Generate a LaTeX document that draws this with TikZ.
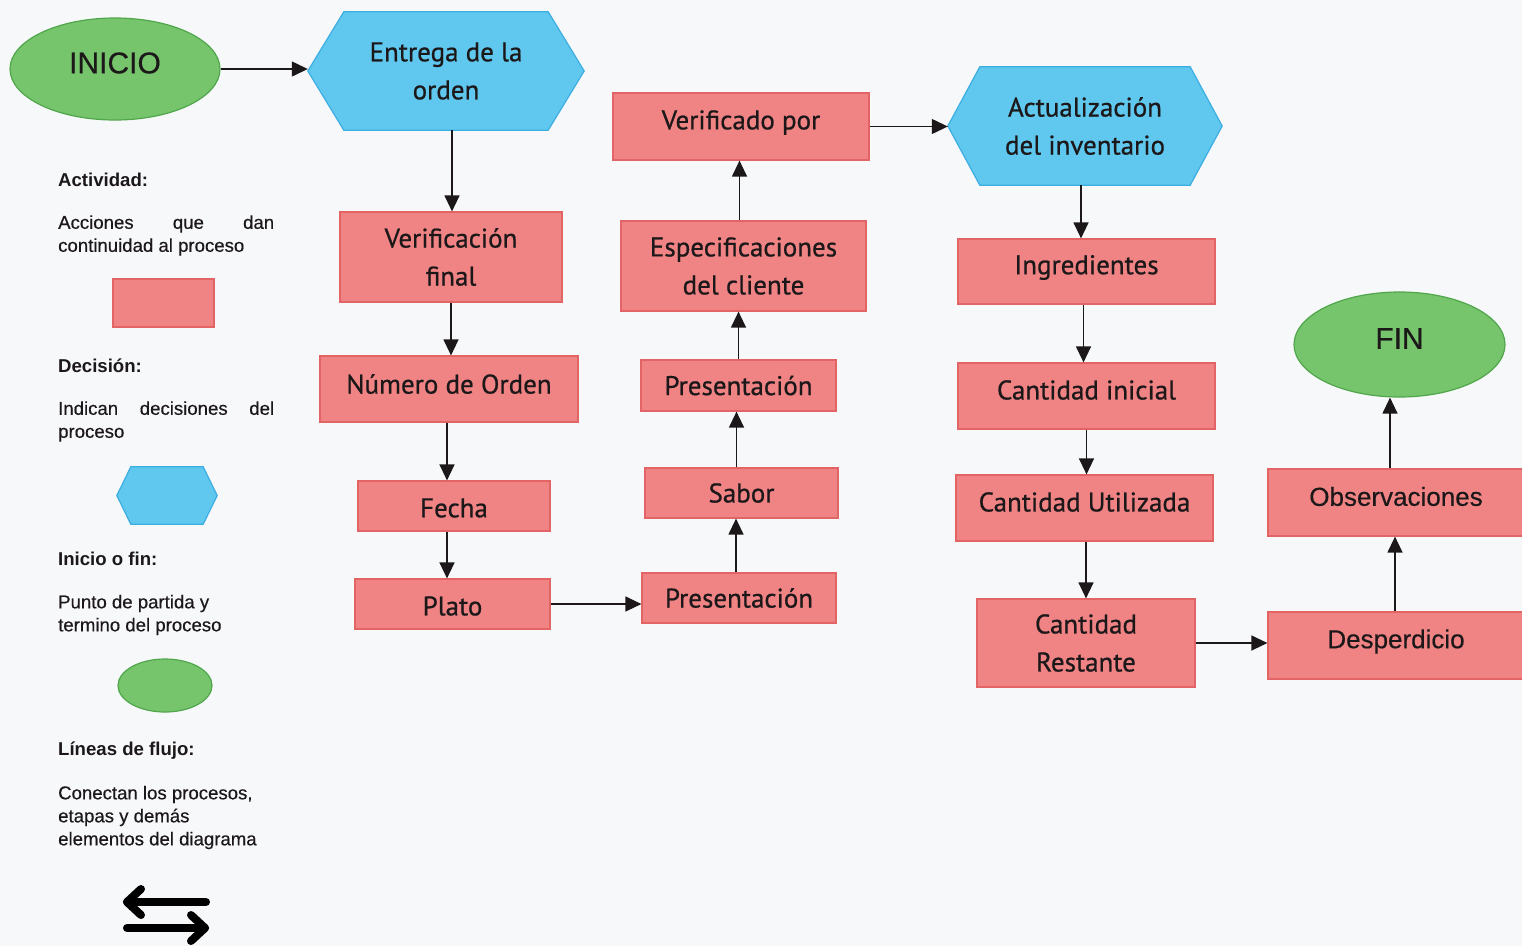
\documentclass[tikz,border=0pt]{standalone}
\usepackage{fontspec}
\setmainfont{Liberation Sans}
\newfontfamily\boxfont{PT Sans}[FakeBold=0.7]
\newfontfamily\legfont{Liberation Sans}[FakeBold=0.4]
\usetikzlibrary{shapes.geometric,arrows.meta,backgrounds,calc}
\newcommand\liftt[2]{\raisebox{#1}[\height][\depth]{#2}}
\definecolor{bg}{RGB}{247,248,250}
\definecolor{pinkfill}{RGB}{240,132,132}
\definecolor{pinkdraw}{RGB}{226,100,100}
\definecolor{bluefill}{RGB}{96,200,238}
\definecolor{bluedraw}{RGB}{60,174,226}
\definecolor{greenfill}{RGB}{118,196,108}
\definecolor{greendraw}{RGB}{80,166,74}
\definecolor{ink}{RGB}{28,24,26}
\begin{document}
\begin{tikzpicture}[x=1pt,y=-1pt,
  act/.style={rectangle, fill=pinkfill, draw=pinkdraw, line width=1.2pt, inner sep=0pt, align=center, text=ink, font=\boxfont\fontsize{27}{38}\selectfont},
  hexbox/.style={rectangle, inner sep=0pt, align=center, text=ink, font=\boxfont\fontsize{27}{38}\selectfont},
  hexdraw/.style={fill=bluefill, draw=bluedraw, line width=1.2pt, line join=miter},
  term/.style={ellipse, fill=greenfill, draw=greendraw, line width=1.2pt, inner sep=0pt, text=ink, font=\legfont\fontsize{30}{34}\selectfont},
  flow/.style={line width=1.3pt, draw=ink, -{Triangle[length=16pt,width=15pt]}},
  lhead/.style={anchor=west, inner sep=0pt, font=\bfseries\fontsize{18.6}{23}\selectfont, text=ink},
  ltext/.style={anchor=west, inner sep=0pt, align=left, font=\legfont\fontsize{18.6}{23}\selectfont, text=ink},
  icon/.style={line width=8pt, line cap=round, line join=round, draw=black},
]
\useasboundingbox (0,0) rectangle (1522,946);
\begin{pgfonlayer}{background}
  \fill[bg] (0,0) rectangle (1522,946);
\end{pgfonlayer}

% ---- legend ----
\node[lhead] (h1) at (58,180) {Actividad:};
\node[ltext] (t1) at (58,235.5) {\makebox[216pt][s]{Acciones que dan}\\continuidad al proceso};
\node[act, minimum width=101pt, minimum height=48pt] (lact) at (163.5,303) {};
\node[lhead] (h2) at (58,366) {Decisión:};
\node[ltext] (t2) at (58,421.5) {\makebox[216pt][s]{Indican decisiones del}\\proceso};
\node[hexbox, minimum width=100pt, minimum height=57pt] (ldec) at (167,495.5) {};
\node[lhead] (h3) at (58,559) {Inicio o fin:};
\node[ltext] (t3) at (58,615) {Punto de partida y\\termino del proceso};
\node[term, minimum width=94pt, minimum height=53pt] (lterm) at (165,685.5) {};
\node[lhead] (h4) at (58,751) {Líneas de flujo:};
\node[ltext] (t4) at (58,817.5) {Conectan los procesos,\\etapas y demás\\elementos del diagrama};
\coordinate (ia1) at (206,902);
\coordinate (ia2) at (127,902);
\coordinate (ib1) at (127,928);
\coordinate (ib2) at (205,928);
\draw[icon] (ia1) -- (ia2);
\draw[icon] ($(ia2)+(14,-13)$) -- (ia2) -- ($(ia2)+(14,13)$);
\draw[icon] (ib1) -- (ib2);
\draw[icon] ($(ib2)+(-14,-13)$) -- (ib2) -- ($(ib2)+(-14,13)$);

% ---- flow ----
\node[term, minimum width=210pt, minimum height=102pt] (inicio) at (115,69) {\liftt{6pt}{INICIO}};
\node[hexbox, minimum width=276pt, minimum height=118pt] (entrega) at (446,71) {Entrega de la\\orden};
\node[act, minimum width=222pt, minimum height=90pt] (verfinal) at (451,257) {Verificación\\final};
\node[act, minimum width=258pt, minimum height=66pt] (numorden) at (449,389) {\liftt{5pt}{Número de Orden}};
\node[act, minimum width=192pt, minimum height=50pt] (fecha) at (454,506) {\liftt{-2pt}{Fecha}};
\node[act, minimum width=195pt, minimum height=50pt] (plato) at (452.5,604) {\liftt{-2pt}{Plato}};
\node[act, minimum width=194pt, minimum height=50pt] (pres1) at (739,598) {Presentación};
\node[act, minimum width=193pt, minimum height=50pt] (sabor) at (741.5,493) {Sabor};
\node[act, minimum width=195pt, minimum height=51pt] (pres2) at (738.5,385.5) {Presentación};
\node[act, minimum width=245pt, minimum height=90pt] (espec) at (743.5,266) {Especificaciones\\del cliente};
\node[act, minimum width=256pt, minimum height=67pt] (verpor) at (741,126.5) {\liftt{4pt}{Verificado por}};
\node[hexbox, minimum width=274pt, minimum height=118pt] (actual) at (1085,126) {Actualización\\del inventario};
\node[act, minimum width=257pt, minimum height=65pt] (ingred) at (1086.5,271.5) {\liftt{4pt}{Ingredientes}};
\node[act, minimum width=257pt, minimum height=66pt] (cantini) at (1086.5,396) {\liftt{6pt}{Cantidad inicial}};
\node[act, minimum width=257pt, minimum height=66pt] (cantutil) at (1084.5,508) {\liftt{6pt}{Cantidad Utilizada}};
\node[act, minimum width=218pt, minimum height=88pt] (cantrest) at (1086,643) {Cantidad\\Restante};
\node[act, font=\legfont\fontsize{26}{30}\selectfont, minimum width=256pt, minimum height=67pt] (desp) at (1396,645.5) {\liftt{4pt}{Desperdicio}};
\node[act, font=\legfont\fontsize{26}{30}\selectfont, minimum width=256pt, minimum height=67pt] (obs) at (1396,502.5) {\liftt{6pt}{Observaciones}};
\node[term, minimum width=211pt, minimum height=105pt] (fin) at (1399.5,344.5) {\liftt{6pt}{FIN}};

% hexagons behind their text
\begin{pgfonlayer}{background}
  \foreach \h/\d in {entrega/36, actual/32, ldec/14}{
    \path[hexdraw] (\h.west) -- ([xshift=\d pt]\h.north west) -- ([xshift=-\d pt]\h.north east) -- (\h.east) -- ([xshift=-\d pt]\h.south east) -- ([xshift=\d pt]\h.south west) -- cycle;
  }
\end{pgfonlayer}

% connectors
\draw[flow] (inicio.east) -- (inicio.east -| entrega.west);
\draw[flow] ([xshift=6pt]entrega.south) -- ([xshift=6pt]entrega.south |- verfinal.north);
\draw[flow] (verfinal.south) -- (verfinal.south |- numorden.north);
\draw[flow] ([xshift=-2pt]numorden.south) -- ([xshift=-2pt]numorden.south |- fecha.north);
\draw[flow] ([xshift=-7pt]fecha.south) -- ([xshift=-7pt]fecha.south |- plato.north);
\draw[flow] (plato.east) -- (plato.east -| pres1.west);
\draw[flow] ([xshift=-3pt]pres1.north) -- ([xshift=-3pt]pres1.north |- sabor.south);
\draw[flow] ([xshift=-5pt]sabor.north) -- ([xshift=-5pt]sabor.north |- pres2.south);
\draw[flow] (pres2.north) -- (pres2.north |- espec.south);
\draw[flow] ([xshift=-4pt]espec.north) -- ([xshift=-4pt]espec.north |- verpor.south);
\draw[flow] (verpor.east) -- (verpor.east -| actual.west);
\draw[flow] ([xshift=-4pt]actual.south) -- ([xshift=-4pt]actual.south |- ingred.north);
\draw[flow] ([xshift=-3pt]ingred.south) -- ([xshift=-3pt]ingred.south |- cantini.north);
\draw[flow] (cantini.south) -- (cantini.south |- cantutil.north);
\draw[flow] ([xshift=1.5pt]cantutil.south) -- ([xshift=1.5pt]cantutil.south |- cantrest.north);
\draw[flow] (cantrest.east) -- (cantrest.east -| desp.west);
\draw[flow] ([xshift=-1pt]desp.north) -- ([xshift=-1pt]desp.north |- obs.south);
\draw[flow] ([xshift=-6pt]obs.north) -- ([xshift=-6pt]obs.north |- fin.south);
\end{tikzpicture}
\end{document}
